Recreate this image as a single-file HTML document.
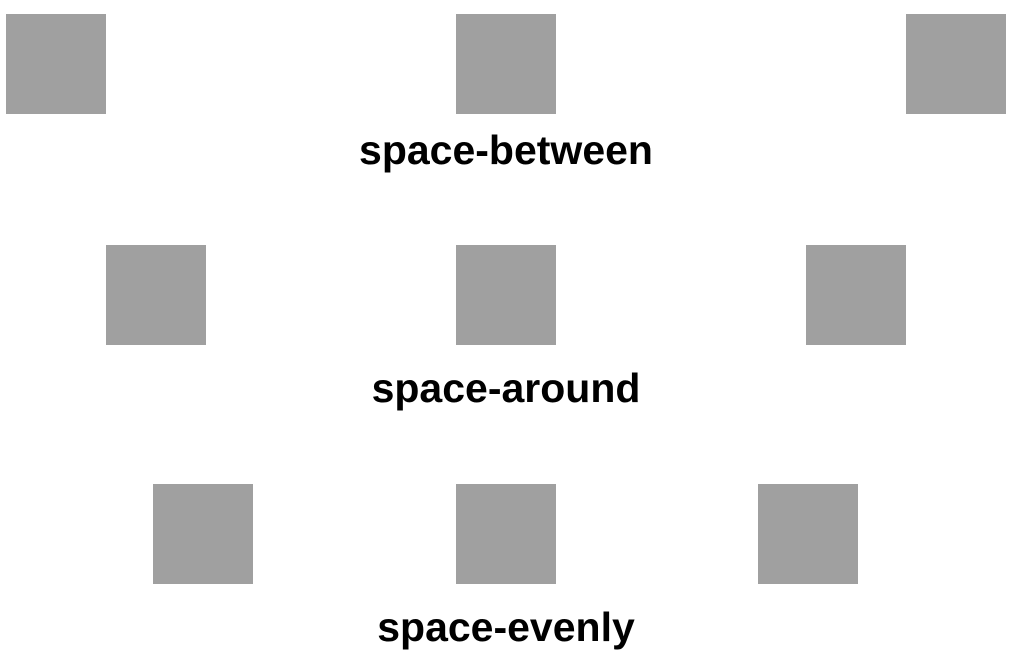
<!DOCTYPE html>
<html>
<head>
<meta charset="utf-8">
<style>
  html,body{margin:0;padding:0;background:#fff;width:1013px;height:667px;overflow:hidden;}
  body{position:relative;font-family:"Liberation Sans",sans-serif;}
  .row{position:absolute;left:0;width:1013px;height:100px;}
  .box{position:absolute;top:0;width:100px;height:100px;background:#a0a0a0;}
  .label{position:absolute;left:6px;width:1000px;text-align:center;font-weight:bold;font-size:41px;line-height:42px;color:#000;}
</style>
</head>
<body>
  <div class="row" style="top:14px">
    <div class="box" style="left:6px"></div>
    <div class="box" style="left:456px"></div>
    <div class="box" style="left:906px"></div>
  </div>
  <div class="label" style="top:129px">space-between</div>

  <div class="row" style="top:245px">
    <div class="box" style="left:106px"></div>
    <div class="box" style="left:456px"></div>
    <div class="box" style="left:806px"></div>
  </div>
  <div class="label" style="top:367px">space-around</div>

  <div class="row" style="top:484px">
    <div class="box" style="left:153px"></div>
    <div class="box" style="left:456px"></div>
    <div class="box" style="left:758px"></div>
  </div>
  <div class="label" style="top:606px">space-evenly</div>
</body>
</html>
